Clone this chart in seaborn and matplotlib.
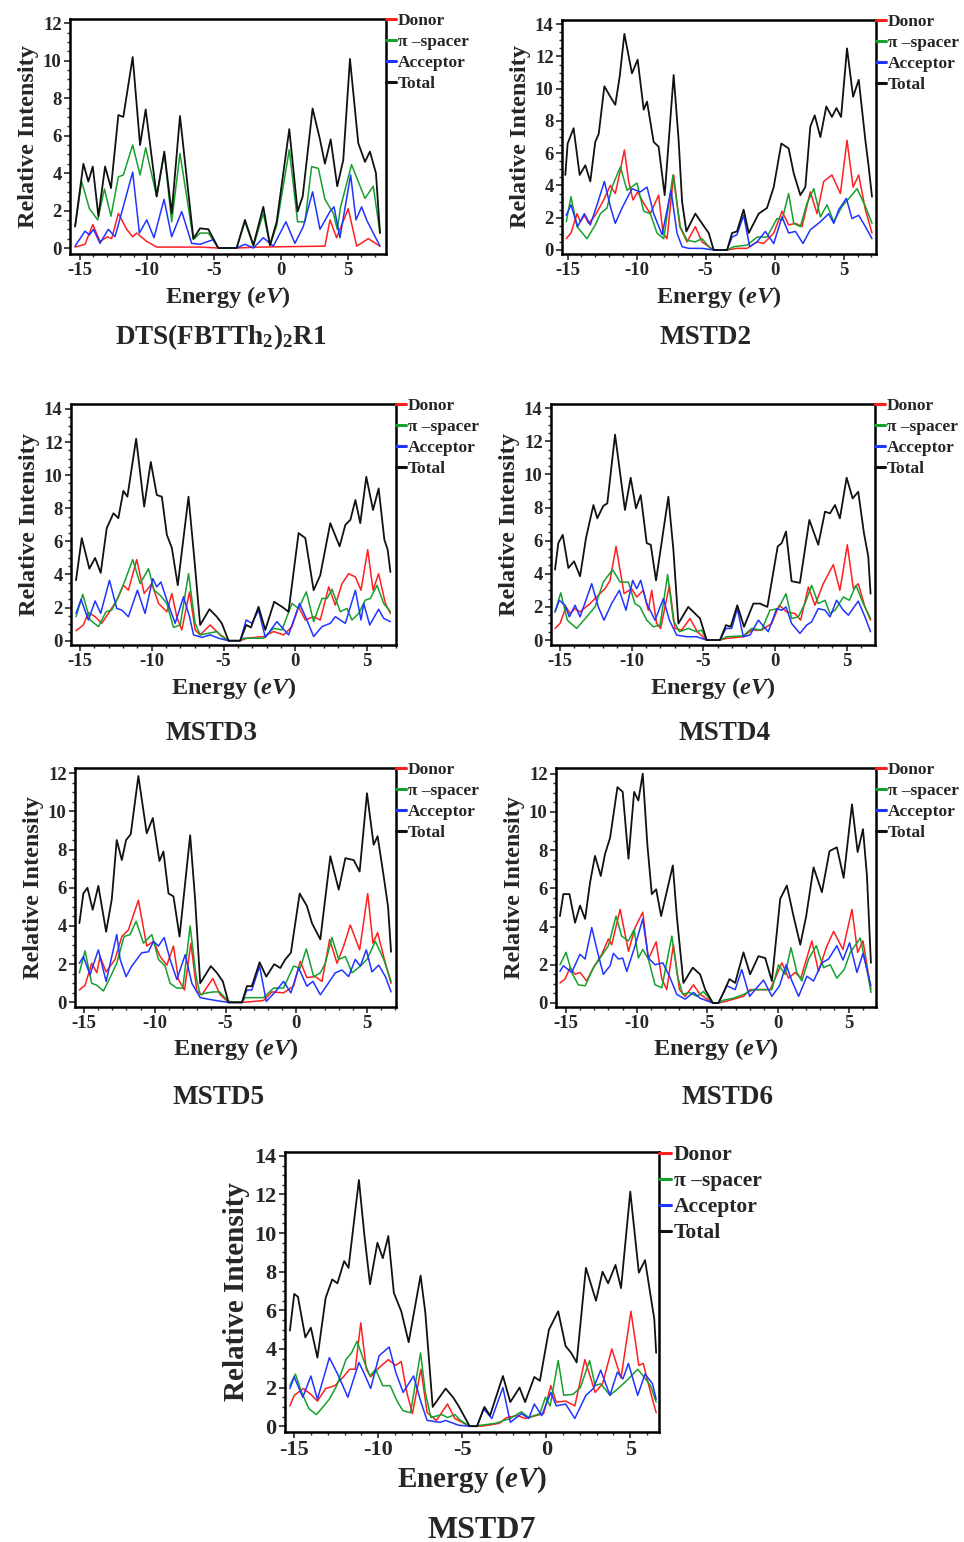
import matplotlib
matplotlib.use("Agg")
import matplotlib.pyplot as plt
import pandas as pd
import seaborn as sns
from matplotlib.ticker import MultipleLocator

PARTS = ["Donor", "π –spacer", "Acceptor", "Total"]
PART_COLORS = ["#ff1f1f", "#16a02e", "#2034ff", "#111111"]

# (energy eV, relative intensity)
DTS_DONOR = [(-15.37, 0.05), (-14.63, 0.2), (-14.05, 1.25), (-13.51, 0.35), (-12.96, 0.6), (-12.64, 0.5),
             (-12.14, 1.85), (-11.52, 1.0), (-11.07, 0.6), (-10.77, 0.8), (-10.02, 0.35), (-9.28, 0.05),
             (-6.04, 0.05), (-4.68, 0.0), (-3.31, 0.0), (-1.57, 0.05), (3.28, 0.1), (3.66, 1.5), (4.15, 0.55),
             (5.02, 2.1), (5.65, 0.1), (6.52, 0.5), (7.39, 0.1)]
DTS_SPACER = [(-15.37, 1.15), (-14.88, 3.55), (-14.3, 2.1), (-13.68, 1.5), (-13.18, 3.15), (-12.69, 1.7),
              (-12.14, 3.8), (-11.77, 3.9), (-11.07, 5.5), (-10.52, 3.9), (-10.1, 5.35), (-9.28, 2.75),
              (-8.71, 5.05), (-8.16, 1.4), (-7.54, 5.05), (-6.54, 0.45), (-6.04, 0.8), (-5.42, 0.8),
              (-4.68, 0.0), (-3.31, 0.0), (-2.69, 1.4), (-2.06, 0.1), (-1.32, 1.85), (-0.82, 0.15),
              (-0.32, 1.2), (0.62, 5.25), (1.24, 1.4), (1.79, 1.4), (2.29, 4.35), (2.79, 4.25), (3.28, 2.6),
              (3.91, 1.85), (4.2, 1.0), (4.45, 2.2), (5.27, 4.45), (5.77, 3.55), (6.27, 2.65), (6.89, 3.3),
              (7.39, 0.8)]
DTS_ACCEPTOR = [(-15.37, 0.1), (-14.63, 0.9), (-14.3, 0.7), (-14.0, 1.0), (-13.51, 0.25), (-12.89, 1.0),
                (-12.39, 0.6), (-11.07, 4.05), (-10.57, 0.8), (-10.02, 1.5), (-9.48, 0.55), (-8.73, 2.6),
                (-8.16, 0.6), (-7.41, 1.95), (-6.67, 0.25), (-6.04, 0.2), (-5.05, 0.45), (-4.68, 0.0),
                (-3.31, 0.0), (-2.69, 0.2), (-2.06, 0.0), (-1.32, 0.55), (-0.57, 0.1), (0.37, 1.4),
                (1.04, 0.25), (1.67, 1.15), (2.36, 3.0), (2.91, 1.0), (3.66, 1.95), (3.96, 2.2), (4.4, 0.55),
                (5.2, 3.9), (5.6, 1.5), (6.02, 2.2), (6.39, 1.5), (6.89, 0.8), (7.39, 0.1)]
DTS_TOTAL = [(-15.37, 1.15), (-14.75, 4.5), (-14.38, 3.55), (-14.05, 4.35), (-13.63, 1.7), (-13.13, 4.35),
             (-12.69, 3.2), (-12.14, 7.1), (-11.77, 7.0), (-11.07, 10.2), (-10.52, 5.5), (-10.1, 7.4),
             (-9.28, 2.75), (-8.71, 5.15), (-8.16, 1.85), (-7.54, 7.05), (-6.54, 0.5), (-6.04, 1.05),
             (-5.42, 1.0), (-4.68, 0.0), (-3.31, 0.0), (-2.69, 1.5), (-2.06, 0.15), (-1.32, 2.2),
             (-0.82, 0.15), (-0.32, 1.4), (0.62, 6.35), (1.24, 1.95), (1.62, 2.75), (2.36, 7.45), (2.91, 5.8),
             (3.28, 4.5), (3.71, 5.8), (4.2, 3.3), (4.65, 4.7), (5.15, 10.1), (5.77, 5.6), (6.27, 4.6),
             (6.64, 5.15), (7.09, 4.0), (7.39, 0.8)]

MSTD2_DONOR = [(-15.1, 0.7), (-14.76, 1.05), (-14.32, 2.25), (-14.08, 1.75), (-13.79, 2.15), (-13.48, 1.65),
               (-13.0, 2.15), (-12.39, 3.1), (-11.91, 4.0), (-11.55, 3.5), (-11.23, 4.75), (-10.89, 6.2),
               (-10.58, 4.25), (-10.27, 3.1), (-9.93, 3.6), (-9.49, 2.9), (-9.01, 2.25), (-8.41, 3.4),
               (-8.09, 1.05), (-7.8, 0.7), (-7.32, 4.65), (-6.88, 1.45), (-6.35, 0.5), (-5.75, 1.45),
               (-5.27, 0.5), (-4.42, 0.0), (-3.45, 0.0), (-2.73, 0.1), (-2.0, 0.1), (-1.28, 0.5), (-0.8, 0.4),
               (-0.07, 1.05), (0.53, 2.4), (1.01, 1.55), (1.5, 1.65), (1.98, 1.45), (2.58, 3.6), (3.07, 2.25),
               (3.55, 4.25), (4.15, 4.65), (4.76, 3.5), (5.24, 6.8), (5.68, 3.9), (6.09, 4.65), (6.57, 2.5),
               (7.05, 1.05)]
MSTD2_SPACER = [(-15.1, 1.75), (-14.76, 3.3), (-14.32, 1.45), (-13.6, 0.7), (-13.0, 1.55), (-12.63, 2.25),
                (-12.15, 2.6), (-11.79, 3.9), (-11.18, 5.15), (-10.7, 3.7), (-9.98, 4.15), (-9.49, 2.4),
                (-9.01, 2.25), (-8.53, 1.05), (-8.04, 0.7), (-7.37, 4.65), (-6.84, 1.45), (-6.35, 0.6),
                (-5.75, 0.5), (-5.27, 0.7), (-4.66, 0.1), (-4.42, 0.0), (-3.45, 0.0), (-2.97, 0.2), (-2.0, 0.3),
                (-1.28, 0.8), (-0.56, 0.8), (0.17, 1.95), (0.53, 1.85), (1.01, 3.5), (1.38, 1.65), (1.86, 1.45),
                (2.34, 2.9), (2.83, 3.8), (3.31, 2.05), (3.79, 2.8), (4.28, 1.75), (4.88, 2.7), (5.48, 3.3),
                (5.97, 3.8), (6.57, 2.7), (7.05, 1.65)]
MSTD2_ACCEPTOR = [(-15.1, 2.15), (-14.76, 2.8), (-14.28, 1.45), (-13.79, 2.25), (-13.36, 1.55), (-12.83, 2.9),
                  (-12.34, 4.25), (-11.91, 2.7), (-11.55, 1.65), (-11.06, 2.6), (-10.34, 3.8), (-9.73, 3.6),
                  (-9.25, 3.9), (-8.77, 2.25), (-8.16, 0.95), (-7.51, 3.7), (-7.08, 1.05), (-6.71, 0.2),
                  (-6.23, 0.1), (-5.27, 0.1), (-4.42, 0.0), (-3.45, 0.0), (-3.09, 0.8), (-2.73, 0.95),
                  (-2.25, 2.15), (-1.81, 0.2), (-1.28, 0.5), (-0.68, 1.15), (-0.07, 0.4), (0.53, 2.05),
                  (1.01, 1.05), (1.5, 1.15), (2.05, 0.4), (2.58, 1.25), (3.31, 1.75), (3.91, 2.25), (4.28, 1.65),
                  (4.64, 2.5), (5.19, 3.2), (5.6, 1.95), (6.09, 2.15), (6.57, 1.45), (7.05, 0.7)]
MSTD2_TOTAL = [(-15.17, 4.65), (-15.0, 6.6), (-14.57, 7.55), (-14.13, 4.65), (-13.72, 5.25), (-13.36, 4.25),
               (-13.0, 6.7), (-12.75, 7.2), (-12.34, 10.15), (-11.91, 9.5), (-11.55, 9.0), (-11.23, 10.75),
               (-10.89, 13.4), (-10.34, 10.95), (-9.93, 11.8), (-9.49, 8.7), (-9.25, 9.2), (-8.77, 6.7),
               (-8.41, 6.4), (-7.97, 3.4), (-7.32, 10.85), (-6.96, 6.8), (-6.71, 3.0), (-6.4, 1.15),
               (-5.75, 2.25), (-5.19, 1.55), (-4.78, 1.05), (-4.42, 0.0), (-3.45, 0.0), (-3.09, 1.05),
               (-2.73, 1.15), (-2.25, 2.5), (-1.88, 1.05), (-1.16, 2.25), (-0.56, 2.6), (-0.07, 3.9),
               (0.48, 6.6), (1.01, 6.3), (1.38, 4.75), (1.86, 3.4), (2.22, 3.9), (2.58, 7.65), (2.9, 8.35),
               (3.31, 7.0), (3.74, 8.9), (4.15, 8.25), (4.47, 8.8), (4.81, 8.25), (5.24, 12.5), (5.68, 9.5),
               (6.09, 10.55), (6.57, 6.8), (6.81, 5.15), (7.05, 3.3)]

MSTD3_DONOR = [(-15.28, 0.6), (-14.77, 0.95), (-14.42, 1.7), (-13.95, 1.45), (-13.49, 1.05), (-13.02, 1.65),
               (-12.44, 2.45), (-11.98, 3.35), (-11.63, 3.05), (-11.05, 4.9), (-10.53, 2.85), (-10.0, 3.45),
               (-9.53, 2.25), (-8.95, 1.75), (-8.6, 2.85), (-8.26, 1.45), (-7.91, 0.65), (-7.37, 2.95),
               (-6.98, 0.65), (-6.63, 0.35), (-5.93, 0.95), (-5.35, 0.45), (-4.65, 0.0), (-3.84, 0.0),
               (-3.37, 0.15), (-2.21, 0.25), (-1.51, 0.55), (-0.81, 0.35), (-0.23, 0.85), (0.23, 2.05),
               (0.7, 1.25), (1.28, 1.45), (1.74, 1.25), (2.33, 3.25), (2.79, 2.15), (3.26, 3.45), (3.72, 4.05),
               (4.19, 3.85), (4.58, 3.05), (5.05, 5.5), (5.42, 3.05), (5.81, 4.05), (6.28, 2.25), (6.63, 1.65)]
MSTD3_SPACER = [(-15.28, 1.45), (-14.81, 2.8), (-14.3, 1.25), (-13.72, 0.85), (-13.19, 1.75), (-12.79, 1.85),
                (-12.33, 2.65), (-11.86, 3.65), (-11.33, 4.9), (-10.81, 3.45), (-10.23, 4.35), (-9.84, 3.05),
                (-9.42, 2.75), (-8.95, 2.25), (-8.49, 0.8), (-8.02, 0.95), (-7.44, 4.05), (-6.98, 1.05),
                (-6.63, 0.35), (-6.05, 0.45), (-5.47, 0.55), (-5.12, 0.25), (-4.65, 0.0), (-3.84, 0.0),
                (-3.6, 0.15), (-2.21, 0.15), (-1.51, 0.75), (-0.93, 0.65), (-0.23, 2.25), (0.23, 1.95),
                (0.77, 2.95), (1.28, 1.15), (1.86, 2.55), (2.21, 2.55), (2.56, 3.1), (3.14, 1.75), (3.6, 1.95),
                (3.95, 1.25), (4.42, 1.65), (4.88, 2.45), (5.23, 2.55), (5.7, 3.35), (6.16, 2.25), (6.63, 1.75)]
MSTD3_ACCEPTOR = [(-15.28, 1.65), (-14.93, 2.5), (-14.42, 1.25), (-13.95, 2.4), (-13.56, 1.65), (-12.95, 3.65),
                  (-12.44, 1.95), (-12.09, 1.85), (-11.63, 1.45), (-11.0, 3.05), (-10.47, 1.65), (-9.93, 3.75),
                  (-9.65, 3.25), (-9.37, 3.55), (-8.95, 2.45), (-8.37, 1.05), (-7.79, 2.65), (-7.37, 1.45),
                  (-7.09, 0.35), (-6.51, 0.2), (-5.93, 0.35), (-5.35, 0.15), (-4.65, 0.0), (-3.84, 0.0),
                  (-3.42, 1.25), (-3.02, 1.05), (-2.56, 1.85), (-2.09, 0.2), (-1.28, 1.15), (-0.47, 0.35),
                  (0.3, 2.25), (0.81, 1.25), (1.28, 0.25), (1.86, 0.85), (2.44, 1.05), (2.79, 1.45), (3.49, 1.05),
                  (4.19, 3.05), (4.58, 1.25), (4.77, 2.25), (5.19, 0.95), (5.81, 1.9), (6.16, 1.35), (6.63, 1.15)]
MSTD3_TOTAL = [(-15.28, 3.65), (-14.88, 6.2), (-14.35, 4.35), (-13.95, 5.0), (-13.56, 4.1), (-13.14, 6.8),
               (-12.67, 7.7), (-12.33, 7.4), (-11.98, 9.05), (-11.7, 8.7), (-11.09, 12.2), (-10.53, 8.1),
               (-10.07, 10.8), (-9.65, 8.8), (-9.3, 8.7), (-8.95, 6.4), (-8.6, 5.6), (-8.19, 3.35),
               (-7.44, 8.7), (-7.05, 5.1), (-6.63, 0.95), (-5.98, 1.9), (-5.47, 1.45), (-5.12, 1.05),
               (-4.65, 0.0), (-3.84, 0.0), (-3.42, 0.95), (-3.09, 0.8), (-2.56, 2.05), (-2.09, 0.65),
               (-1.47, 2.35), (-0.93, 2.05), (-0.47, 1.75), (0.23, 6.5), (0.7, 6.2), (1.28, 3.05), (1.74, 3.95),
               (2.44, 7.1), (3.09, 5.7), (3.49, 7.0), (3.84, 7.3), (4.19, 8.5), (4.53, 7.1), (4.95, 9.9),
               (5.42, 7.9), (5.81, 9.2), (6.21, 6.1), (6.44, 5.5), (6.63, 4.15)]

MSTD4_DONOR = [(-15.35, 0.7), (-15.0, 1.0), (-14.58, 2.0), (-14.3, 1.6), (-13.95, 1.9), (-13.6, 1.7),
               (-12.91, 2.2), (-12.33, 2.7), (-11.86, 3.1), (-11.51, 3.6), (-11.09, 5.65), (-10.53, 2.8),
               (-10.0, 3.1), (-9.65, 2.6), (-9.19, 3.0), (-8.84, 1.8), (-8.6, 3.0), (-8.26, 1.0), (-7.98, 0.7),
               (-7.37, 3.3), (-6.98, 0.7), (-6.51, 0.6), (-5.93, 1.3), (-5.42, 0.5), (-4.77, 0.0), (-3.84, 0.0),
               (-3.37, 0.1), (-2.21, 0.2), (-1.63, 0.6), (-0.93, 0.6), (-0.23, 1.0), (0.3, 2.1), (0.81, 1.7),
               (1.4, 1.6), (1.79, 1.2), (2.33, 3.2), (2.79, 2.1), (3.37, 3.4), (4.07, 4.55), (4.53, 3.0),
               (5.05, 5.75), (5.47, 3.1), (5.81, 3.4), (6.28, 2.0), (6.67, 1.2)]
MSTD4_SPACER = [(-15.35, 1.7), (-14.95, 2.85), (-14.49, 1.2), (-13.84, 0.7), (-13.14, 1.4), (-12.56, 2.0),
                (-11.98, 3.5), (-11.33, 4.25), (-10.81, 3.5), (-10.23, 3.5), (-9.77, 2.2), (-9.42, 2.0),
                (-8.95, 1.2), (-8.49, 0.8), (-8.02, 0.9), (-7.49, 3.95), (-7.09, 1.2), (-6.67, 0.5),
                (-6.05, 0.7), (-5.47, 0.5), (-5.12, 0.6), (-4.77, 0.0), (-3.84, 0.0), (-3.37, 0.2),
                (-2.21, 0.25), (-1.63, 0.7), (-0.93, 0.6), (-0.35, 1.8), (0.23, 1.9), (0.77, 2.8), (1.16, 1.3),
                (1.63, 1.4), (2.09, 2.2), (2.56, 3.3), (3.02, 2.2), (3.49, 2.4), (3.84, 1.6), (4.19, 1.8),
                (4.77, 2.6), (5.19, 2.4), (5.65, 3.3), (6.16, 2.2), (6.67, 1.3)]
MSTD4_ACCEPTOR = [(-15.35, 1.7), (-15.05, 2.4), (-14.65, 2.1), (-14.35, 1.4), (-13.95, 2.1), (-13.6, 1.4),
                  (-12.79, 3.4), (-12.33, 2.0), (-11.93, 1.2), (-11.4, 2.2), (-10.86, 3.0), (-10.4, 1.8),
                  (-9.93, 3.6), (-9.65, 3.1), (-9.37, 3.6), (-8.95, 2.2), (-8.37, 1.2), (-7.79, 2.5),
                  (-7.37, 1.2), (-6.86, 0.3), (-6.16, 0.2), (-5.47, 0.2), (-4.77, 0.0), (-3.84, 0.0),
                  (-3.42, 0.7), (-3.02, 0.7), (-2.63, 1.9), (-2.21, 0.2), (-1.74, 0.3), (-1.16, 1.2),
                  (-0.47, 0.5), (0.12, 1.9), (0.47, 1.8), (0.77, 2.0), (1.16, 1.0), (1.74, 0.4), (2.21, 0.9),
                  (2.56, 1.1), (3.02, 1.9), (3.49, 1.8), (3.84, 1.4), (4.3, 2.4), (4.77, 1.8), (5.12, 1.5),
                  (5.81, 2.35), (6.28, 1.4), (6.67, 0.5)]
MSTD4_TOTAL = [(-15.35, 4.25), (-15.12, 5.85), (-14.81, 6.35), (-14.42, 4.35), (-14.02, 4.75), (-13.6, 3.85),
               (-13.19, 6.15), (-12.67, 8.15), (-12.4, 7.35), (-11.98, 8.1), (-11.7, 8.25), (-11.16, 12.4),
               (-10.47, 7.85), (-10.07, 9.8), (-9.7, 7.95), (-9.37, 8.75), (-8.95, 5.85), (-8.67, 5.75),
               (-8.3, 3.6), (-7.44, 8.65), (-7.09, 5.45), (-6.74, 1.0), (-6.05, 2.0), (-5.58, 1.6),
               (-5.23, 1.3), (-4.77, 0.0), (-3.84, 0.0), (-3.42, 0.9), (-3.09, 0.8), (-2.63, 2.1), (-2.16, 0.8),
               (-1.51, 2.2), (-1.05, 2.2), (-0.53, 2.0), (0.19, 5.65), (0.47, 5.85), (0.77, 6.55), (1.16, 3.55),
               (1.74, 3.45), (2.4, 7.25), (3.02, 5.75), (3.49, 7.75), (3.84, 7.65), (4.19, 8.15), (4.53, 7.35),
               (5.0, 9.8), (5.42, 8.55), (5.81, 8.95), (6.21, 6.45), (6.51, 5.05), (6.67, 2.8)]

MSTD5_DONOR = [(-15.33, 0.65), (-14.93, 0.9), (-14.46, 2.05), (-14.1, 1.55), (-13.87, 2.4), (-13.44, 1.6),
               (-12.81, 2.25), (-12.33, 3.45), (-11.86, 3.8), (-11.16, 5.35), (-10.57, 2.95), (-10.09, 3.2),
               (-9.62, 2.4), (-9.15, 1.95), (-8.68, 2.95), (-8.33, 1.2), (-7.9, 0.65), (-7.45, 3.1),
               (-7.03, 0.6), (-6.67, 0.4), (-5.9, 1.25), (-5.38, 0.4), (-4.79, 0.0), (-3.84, 0.0),
               (-3.02, 0.05), (-2.31, 0.1), (-1.72, 0.55), (-0.9, 0.5), (-0.19, 0.85), (0.28, 2.15),
               (0.75, 1.3), (1.34, 1.35), (1.82, 1.1), (2.36, 3.3), (2.88, 2.05), (3.35, 2.95), (3.82, 4.05),
               (4.48, 2.75), (5.05, 5.7), (5.42, 3.1), (5.75, 3.65), (6.23, 2.25), (6.7, 1.0)]
MSTD5_SPACER = [(-15.33, 1.55), (-14.93, 2.7), (-14.46, 1.0), (-14.1, 0.9), (-13.63, 0.6), (-13.16, 1.3),
                (-12.69, 2.05), (-12.17, 3.45), (-11.75, 3.55), (-11.32, 4.25), (-10.8, 3.1), (-10.21, 3.55),
                (-9.74, 2.25), (-9.27, 1.9), (-8.92, 1.0), (-8.44, 0.75), (-8.02, 0.75), (-7.5, 4.0),
                (-7.08, 1.35), (-6.79, 0.4), (-6.32, 0.5), (-5.85, 0.55), (-5.42, 0.55), (-4.79, 0.05),
                (-3.84, 0.0), (-3.61, 0.25), (-2.31, 0.25), (-1.6, 0.75), (-0.9, 0.75), (-0.19, 1.9),
                (0.28, 1.8), (0.71, 2.8), (1.23, 1.35), (1.7, 1.55), (2.05, 2.05), (2.52, 3.4), (3.0, 2.25),
                (3.47, 2.4), (3.94, 1.55), (4.53, 1.9), (5.0, 2.25), (5.59, 3.2), (6.18, 2.25), (6.7, 1.1)]
MSTD5_ACCEPTOR = [(-15.33, 2.05), (-15.05, 2.4), (-14.58, 1.45), (-13.99, 2.75), (-13.44, 1.1), (-12.69, 3.55),
                  (-12.45, 2.25), (-12.03, 1.35), (-11.63, 1.9), (-10.92, 2.6), (-10.45, 2.65), (-10.09, 3.2),
                  (-9.74, 2.95), (-9.34, 3.4), (-8.92, 2.25), (-8.44, 1.2), (-7.85, 2.5), (-7.38, 1.0),
                  (-6.79, 0.25), (-6.08, 0.15), (-5.26, 0.05), (-4.79, 0.0), (-3.84, 0.0), (-3.49, 0.65),
                  (-3.14, 0.65), (-2.59, 1.9), (-2.12, 0.05), (-1.49, 0.55), (-0.9, 1.1), (-0.38, 0.5),
                  (0.17, 1.8), (0.75, 0.85), (1.18, 1.1), (1.7, 0.4), (2.17, 0.9), (2.76, 1.55), (3.23, 1.7),
                  (3.7, 1.35), (4.17, 2.25), (4.53, 1.9), (4.95, 2.75), (5.35, 1.6), (5.83, 1.95), (6.3, 1.35),
                  (6.7, 0.55)]
MSTD5_TOTAL = [(-15.33, 4.15), (-15.05, 5.7), (-14.76, 6.0), (-14.39, 4.85), (-13.99, 6.1), (-13.44, 3.7),
               (-13.04, 5.4), (-12.69, 8.5), (-12.33, 7.45), (-12.03, 8.5), (-11.7, 8.8), (-11.16, 11.85),
               (-10.57, 8.85), (-10.14, 9.65), (-9.67, 7.4), (-9.39, 7.9), (-9.03, 5.7), (-8.68, 5.55),
               (-8.25, 3.45), (-7.5, 8.75), (-7.15, 5.4), (-6.79, 1.0), (-6.04, 1.9), (-5.61, 1.55),
               (-5.19, 1.1), (-4.79, 0.0), (-3.84, 0.0), (-3.49, 0.85), (-3.14, 0.85), (-2.59, 2.1),
               (-2.12, 1.35), (-1.56, 2.0), (-1.13, 1.8), (-0.78, 2.25), (-0.38, 2.6), (0.24, 5.7), (0.75, 5.05),
               (1.11, 4.15), (1.7, 3.3), (2.41, 7.65), (3.0, 5.9), (3.47, 7.55), (4.06, 7.45), (4.48, 6.85),
               (5.0, 10.95), (5.47, 8.25), (5.75, 8.7), (6.18, 6.6), (6.49, 5.0), (6.7, 2.65)]

MSTD6_DONOR = [(-15.43, 1.05), (-15.07, 1.25), (-14.72, 1.85), (-14.36, 1.5), (-14.01, 1.6), (-13.54, 1.15),
               (-13.06, 1.85), (-12.47, 2.55), (-12.0, 3.35), (-11.77, 3.05), (-11.17, 4.9), (-10.58, 2.7),
               (-10.11, 3.95), (-9.57, 4.75), (-9.17, 2.3), (-8.62, 3.2), (-8.22, 1.25), (-7.87, 0.7),
               (-7.4, 3.05), (-6.97, 0.7), (-6.57, 0.35), (-5.98, 0.95), (-5.51, 0.45), (-4.61, 0.0),
               (-4.21, 0.0), (-3.62, 0.1), (-2.44, 0.35), (-1.97, 0.7), (-1.26, 0.7), (-0.55, 0.7), (0.28, 2.1),
               (0.75, 1.3), (1.22, 1.6), (1.62, 1.3), (2.4, 3.25), (2.87, 1.65), (3.42, 2.9), (3.94, 3.75),
               (4.6, 2.8), (5.24, 4.9), (5.64, 2.65), (6.02, 3.25), (6.58, 0.7)]
MSTD6_SPACER = [(-15.43, 2.0), (-15.0, 2.65), (-14.6, 1.6), (-14.13, 0.95), (-13.65, 0.9), (-13.06, 1.85),
                (-12.59, 2.35), (-12.0, 3.0), (-11.46, 4.55), (-11.06, 3.5), (-10.58, 3.25), (-10.18, 3.85),
                (-9.88, 2.35), (-9.57, 2.8), (-9.17, 2.3), (-8.7, 0.95), (-8.22, 0.8), (-7.51, 3.5),
                (-7.11, 1.4), (-6.74, 0.45), (-6.26, 0.55), (-5.74, 0.35), (-5.27, 0.6), (-4.61, 0.0),
                (-4.21, 0.0), (-3.85, 0.15), (-3.15, 0.25), (-2.44, 0.45), (-1.73, 0.7), (-1.02, 0.7),
                (-0.43, 0.7), (0.04, 2.0), (0.51, 1.5), (0.92, 2.9), (1.34, 1.6), (1.69, 1.15), (2.17, 2.3),
                (2.71, 3.0), (3.23, 1.85), (3.7, 2.0), (4.17, 1.3), (4.69, 1.75), (5.12, 2.65), (5.83, 3.4),
                (6.3, 1.75), (6.58, 0.55)]
MSTD6_ACCEPTOR = [(-15.43, 1.65), (-15.19, 1.95), (-14.6, 1.6), (-14.01, 2.55), (-13.65, 2.3), (-13.18, 3.95),
                  (-12.83, 2.85), (-12.36, 1.5), (-11.88, 1.95), (-11.65, 2.6), (-11.29, 2.3), (-10.99, 2.35),
                  (-10.7, 1.65), (-10.11, 3.0), (-9.57, 4.4), (-9.17, 2.35), (-8.7, 2.0), (-8.15, 2.1),
                  (-7.68, 1.4), (-7.16, 0.45), (-6.57, 0.2), (-5.98, 0.55), (-5.51, 0.25), (-4.61, 0.0),
                  (-4.21, 0.0), (-3.62, 0.9), (-3.03, 0.7), (-2.56, 1.75), (-2.01, 0.35), (-1.49, 0.8),
                  (-1.02, 1.2), (-0.43, 0.35), (0.11, 0.9), (0.58, 2.0), (0.99, 1.15), (1.46, 0.35), (2.05, 1.4),
                  (2.52, 1.15), (3.11, 2.1), (3.58, 2.3), (4.17, 3.0), (4.6, 2.25), (5.07, 3.15), (5.59, 1.6),
                  (6.02, 2.6), (6.58, 0.9)]
MSTD6_TOTAL = [(-15.43, 4.55), (-15.19, 5.7), (-14.76, 5.7), (-14.36, 4.2), (-14.01, 5.1), (-13.65, 4.4),
               (-13.3, 6.3), (-12.95, 7.7), (-12.54, 6.65), (-12.24, 7.8), (-11.88, 8.65), (-11.36, 11.3),
               (-10.99, 11.05), (-10.58, 7.55), (-10.18, 11.05), (-9.88, 10.6), (-9.57, 12.0), (-9.24, 8.25),
               (-8.93, 5.7), (-8.62, 5.95), (-8.27, 4.55), (-7.44, 7.2), (-7.16, 4.55), (-6.69, 1.05),
               (-6.03, 1.85), (-5.51, 1.5), (-5.15, 0.7), (-4.61, 0.0), (-4.21, 0.0), (-3.85, 0.55),
               (-3.43, 1.25), (-3.03, 1.05), (-2.44, 2.65), (-1.97, 1.5), (-1.38, 2.45), (-0.9, 2.35),
               (-0.43, 1.15), (0.16, 5.45), (0.63, 6.15), (1.1, 4.55), (1.58, 3.05), (2.0, 4.55), (2.52, 7.1),
               (3.11, 5.8), (3.65, 7.95), (4.17, 8.15), (4.65, 6.55), (5.24, 10.4), (5.64, 7.9), (6.02, 9.1),
               (6.3, 6.65), (6.58, 2.1)]

MSTD7_DONOR = [(-15.26, 1.05), (-15.0, 1.6), (-14.45, 1.95), (-14.01, 1.65), (-13.62, 1.3), (-13.13, 1.95),
               (-12.58, 2.1), (-12.03, 2.6), (-11.7, 2.95), (-11.37, 2.95), (-11.04, 5.35), (-10.71, 2.95),
               (-10.45, 2.55), (-10.05, 2.95), (-9.4, 3.45), (-8.96, 3.15), (-8.63, 3.35), (-8.3, 1.75),
               (-7.97, 0.65), (-7.46, 2.95), (-7.09, 0.7), (-6.54, 0.3), (-5.88, 1.15), (-5.44, 0.4),
               (-4.56, 0.0), (-3.9, 0.0), (-3.46, 0.05), (-2.8, 0.15), (-2.36, 0.45), (-1.7, 0.55), (-1.26, 0.4),
               (-0.6, 0.55), (-0.16, 0.65), (0.27, 2.1), (0.6, 1.25), (1.15, 1.3), (1.7, 1.05), (2.3, 3.45),
               (2.91, 1.75), (3.35, 2.2), (3.9, 4.0), (4.45, 2.5), (5.04, 5.95), (5.51, 3.15), (5.77, 3.25),
               (6.21, 1.75), (6.54, 0.7)]
MSTD7_SPACER = [(-15.26, 2.1), (-14.93, 2.7), (-14.56, 1.75), (-14.12, 0.9), (-13.68, 0.6), (-13.24, 1.05),
                (-12.91, 1.4), (-12.47, 2.1), (-11.92, 3.45), (-11.59, 3.8), (-11.26, 4.4), (-10.82, 3.3),
                (-10.49, 2.6), (-10.16, 2.95), (-9.73, 2.1), (-9.29, 2.1), (-8.85, 1.25), (-8.52, 0.8),
                (-8.08, 0.7), (-7.48, 3.8), (-7.2, 1.75), (-6.87, 0.45), (-6.21, 0.6), (-5.88, 0.45),
                (-5.44, 0.6), (-5.11, 0.3), (-4.56, 0.0), (-3.9, 0.05), (-3.02, 0.15), (-2.14, 0.4),
                (-1.48, 0.75), (-1.04, 0.45), (-0.38, 0.65), (-0.05, 1.5), (0.23, 1.05), (0.71, 3.4),
                (1.04, 1.6), (1.59, 1.65), (2.03, 2.0), (2.58, 3.4), (2.91, 2.1), (3.24, 2.2), (3.79, 1.6),
                (4.34, 2.0), (4.89, 2.45), (5.44, 2.95), (5.77, 2.6), (6.21, 2.1), (6.54, 1.25)]
MSTD7_ACCEPTOR = [(-15.26, 1.95), (-15.0, 2.55), (-14.49, 1.5), (-14.01, 2.6), (-13.62, 1.4), (-12.91, 3.55),
                  (-12.36, 2.6), (-11.81, 1.5), (-11.15, 3.3), (-10.82, 2.7), (-10.45, 1.95), (-9.95, 3.65),
                  (-9.35, 4.1), (-8.96, 2.8), (-8.52, 1.75), (-7.9, 2.6), (-7.46, 1.25), (-7.09, 0.3),
                  (-6.32, 0.2), (-5.99, 0.3), (-5.22, 0.05), (-4.56, 0.0), (-4.12, 0.0), (-3.73, 0.9),
                  (-3.24, 0.4), (-2.58, 2.0), (-2.14, 0.2), (-1.48, 0.65), (-1.04, 0.4), (-0.71, 1.15),
                  (-0.27, 0.55), (0.27, 1.75), (0.6, 1.05), (1.15, 1.15), (1.7, 0.4), (2.36, 1.6), (2.8, 1.95),
                  (3.24, 2.9), (3.79, 1.6), (4.23, 2.8), (4.56, 2.45), (4.89, 3.25), (5.44, 1.6), (5.88, 2.7),
                  (6.32, 2.2), (6.54, 1.4)]
MSTD7_TOTAL = [(-15.26, 4.95), (-15.0, 6.85), (-14.78, 6.7), (-14.34, 4.6), (-14.01, 5.1), (-13.62, 3.55),
               (-13.13, 6.65), (-12.74, 7.6), (-12.43, 7.4), (-12.03, 8.55), (-11.77, 8.2), (-11.15, 12.75),
               (-10.82, 9.85), (-10.49, 7.35), (-10.05, 9.5), (-9.73, 8.7), (-9.4, 9.85), (-9.07, 6.9),
               (-8.63, 5.95), (-8.19, 4.35), (-7.48, 7.8), (-7.2, 5.9), (-6.76, 1.0), (-5.99, 1.95),
               (-5.55, 1.5), (-5.22, 1.05), (-4.56, 0.0), (-4.12, 0.0), (-3.68, 1.0), (-3.35, 0.55),
               (-2.58, 2.6), (-2.14, 1.25), (-1.59, 2.0), (-1.26, 1.25), (-0.71, 2.55), (-0.38, 2.35),
               (0.16, 5.0), (0.71, 5.95), (1.15, 4.15), (1.48, 3.8), (1.81, 3.3), (2.36, 8.2), (2.96, 6.5),
               (3.35, 8.0), (3.68, 7.4), (4.12, 8.35), (4.45, 7.15), (5.0, 12.15), (5.51, 7.95), (5.88, 8.6),
               (6.21, 6.75), (6.43, 5.55), (6.54, 3.8)]

TITLES = ["DTS(FBTTh$_2$)$_2$R1", "MSTD2", "MSTD3", "MSTD4", "MSTD5", "MSTD6", "MSTD7"]
SERIES = [
    [DTS_DONOR, DTS_SPACER, DTS_ACCEPTOR, DTS_TOTAL],
    [MSTD2_DONOR, MSTD2_SPACER, MSTD2_ACCEPTOR, MSTD2_TOTAL],
    [MSTD3_DONOR, MSTD3_SPACER, MSTD3_ACCEPTOR, MSTD3_TOTAL],
    [MSTD4_DONOR, MSTD4_SPACER, MSTD4_ACCEPTOR, MSTD4_TOTAL],
    [MSTD5_DONOR, MSTD5_SPACER, MSTD5_ACCEPTOR, MSTD5_TOTAL],
    [MSTD6_DONOR, MSTD6_SPACER, MSTD6_ACCEPTOR, MSTD6_TOTAL],
    [MSTD7_DONOR, MSTD7_SPACER, MSTD7_ACCEPTOR, MSTD7_TOTAL],
]
Y_TOPS = [12, 14, 14, 14, 12, 12, 14]

# layout in pixels: (left, top, right, bottom) of each axes box, title centre
W, H = 964, 1542
BOXES = [(70, 19, 386, 254), (562, 20, 876, 254), (71, 404, 396, 645), (551, 404, 875, 645),
         (75, 768, 396, 1007), (556, 768, 876, 1007), (285, 1152, 659, 1432)]
XLIMS = [(-15.75, 7.84), (-15.41, 7.34), (-15.63, 7.02), (-15.63, 6.98), (-15.64, 7.05), (-15.71, 6.94),
         (-15.55, 6.71)]
YLIMS = [(-0.32, 12.23), (-0.25, 14.26), (-0.26, 14.3), (-0.3, 14.25), (-0.24, 12.27), (-0.21, 12.3),
         (-0.3, 14.2)]
TITLE_POS = [(221, 337), (706, 337), (211, 733), (725, 733), (219, 1097), (727, 1097), (482, 1530)]

sns.set_theme(style="ticks")
plt.rcParams["font.family"] = ["Liberation Serif", "DejaVu Serif"]
plt.rcParams["font.weight"] = "bold"
plt.rcParams["axes.unicode_minus"] = False
plt.rcParams["mathtext.fontset"] = "custom"
plt.rcParams["mathtext.rm"] = "Liberation Serif:bold"
plt.rcParams["mathtext.it"] = "Liberation Serif:italic:bold"
plt.rcParams["mathtext.bf"] = "Liberation Serif:bold"

fig = plt.figure(figsize=(W / 100, H / 100), dpi=100)
fig.patch.set_facecolor("white")

for i, (title, series) in enumerate(zip(TITLES, SERIES)):
    big = i == 6
    left, top, right, bottom = BOXES[i]
    ax = fig.add_axes([left / W, 1 - bottom / H, (right - left) / W, (bottom - top) / H])

    rows = []
    for part, points in zip(PARTS, series):
        for energy, value in points:
            rows.append({"Energy": energy, "Intensity": value, "Part": part})
    frame = pd.DataFrame(rows)

    sns.lineplot(data=frame, x="Energy", y="Intensity", hue="Part", hue_order=PARTS,
                 palette=PART_COLORS, sort=False, estimator=None, linewidth=1.1, ax=ax)
    for line in ax.get_lines()[3:4]:
        line.set_linewidth(1.3)

    ax.set_xlim(*XLIMS[i])
    ax.set_ylim(*YLIMS[i])
    ax.xaxis.set_major_locator(MultipleLocator(5))
    ax.xaxis.set_minor_locator(MultipleLocator(1))
    ax.yaxis.set_minor_locator(MultipleLocator(0.5))
    ax.set_yticks(range(0, Y_TOPS[i] + 1, 2))

    tick_size = 16 if big else 13.5
    label_size = 21 if big else 17.5
    ax.tick_params(axis="both", which="major", direction="out", length=4, width=1.2,
                   labelsize=tick_size, pad=2)
    ax.tick_params(axis="both", which="minor", direction="out", length=2.5, width=1.0)
    for tick_label in ax.get_xticklabels() + ax.get_yticklabels():
        tick_label.set_fontweight("bold")
    for spine in ax.spines.values():
        spine.set_visible(True)
        spine.set_linewidth(1.8)
        spine.set_color("black")

    ax.set_xlabel("Energy ($eV$)", fontsize=label_size, fontweight="bold", labelpad=3)
    ax.set_ylabel("Relative Intensity", fontsize=label_size, fontweight="bold", labelpad=3)

    handles, labels = ax.get_legend_handles_labels()
    legend = ax.legend(handles, labels, loc="upper left", bbox_to_anchor=(1.0, 1.025),
                       borderaxespad=0, borderpad=0, frameon=False,
                       handlelength=0.55, handletextpad=0.15, labelspacing=0.28,
                       prop={"family": "Liberation Serif", "weight": "bold",
                             "size": 15.5 if big else 12.5})
    for handle in legend.get_lines():
        handle.set_linewidth(2.2)

    tx, ty = TITLE_POS[i]
    fig.text(tx / W, 1 - ty / H, title, ha="center", va="center",
             fontsize=23 if big else 19.5, fontweight="bold")

fig.savefig("out.png", dpi=100, facecolor="white")
